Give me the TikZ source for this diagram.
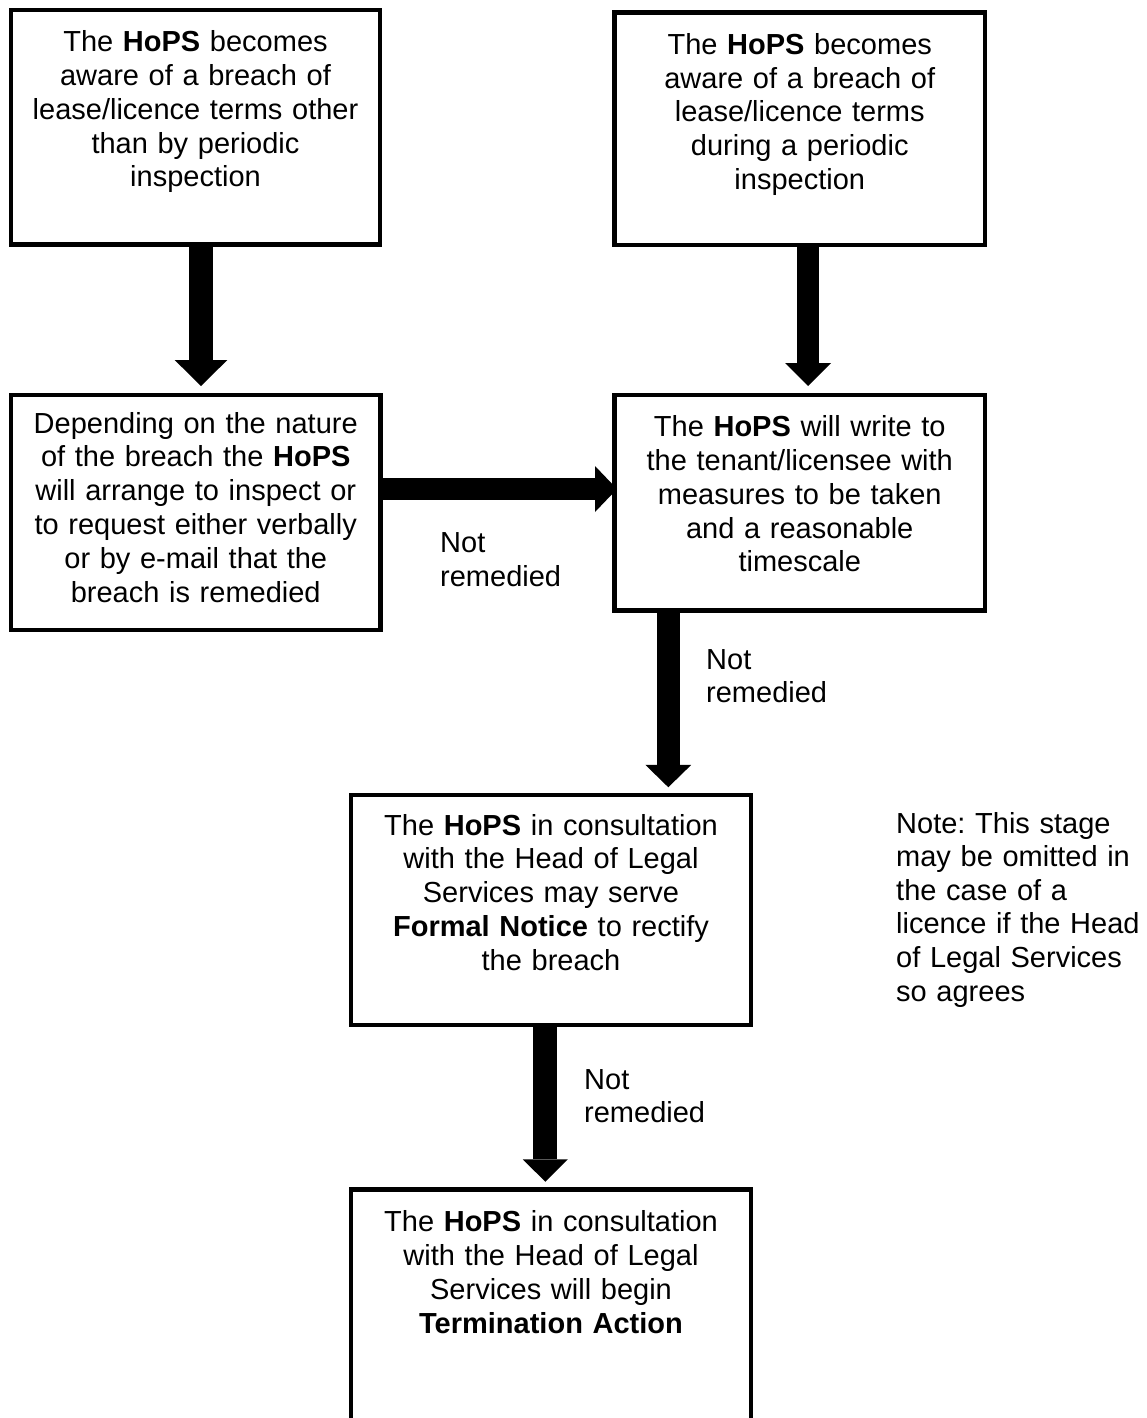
\documentclass[tikz,border=0pt]{standalone}
\usepackage{fontspec}
\setmainfont{Liberation Sans}
\usetikzlibrary{arrows.meta}
\frenchspacing

\begin{document}
\begin{tikzpicture}[x=1pt,y=-1pt,
  box/.style={draw, line width=4.5pt, rectangle, inner sep=0pt},
  boxtext/.style={anchor=base, inner sep=0pt, align=center, text width=390pt,
    font=\fontsize{29}{33.8}\selectfont},
  sidetext/.style={anchor=base west, inner sep=0pt, align=left, text width=250pt,
    font=\fontsize{29}{33.6}\selectfont},
  flow/.style={line width=#1}
]
% page
\fill[white] (0,0) rectangle (1146,1418);
\useasboundingbox (0,0) rectangle (1146,1418);

% boxes
\node[box, minimum width=369pt, minimum height=234.5pt] (b1) at (195.5,127.25) {};
\node[box, minimum width=370.5pt, minimum height=232.5pt] (b3) at (799.75,128.75) {};
\node[box, minimum width=369.5pt, minimum height=235pt] (b2) at (195.75,512.5) {};
\node[box, minimum width=370.5pt, minimum height=215.5pt] (b4) at (799.75,502.75) {};
\node[box, minimum width=400pt, minimum height=230pt] (b5) at (551,910) {};
\node[box, minimum width=400pt, minimum height=250.5pt] (b6) at (551,1314.75) {};

% box texts
\node[boxtext] (t1) at (195.5,51.7) {The \textbf{HoPS} becomes\\aware of a breach of\\lease/licence terms other\\than by periodic\\inspection};
\node[boxtext] (t3) at (799.75,54.3) {The \textbf{HoPS} becomes\\aware of a breach of\\lease/licence terms\\during a periodic\\inspection};
\node[boxtext] (t2) at (195.75,433) {Depending on the nature\\of the breach the \textbf{HoPS}\\will arrange to inspect or\\to request either verbally\\or by e-mail that the\\breach is remedied};
\node[boxtext] (t4) at (799.75,436.7) {The \textbf{HoPS} will write to\\the tenant/licensee with\\measures to be taken\\and a reasonable\\timescale};
\node[boxtext] (t5) at (551,835) {The \textbf{HoPS} in consultation\\with the Head of Legal\\Services may serve\\\textbf{Formal Notice} to rectify\\the breach};
\node[boxtext] (t6) at (551,1231.7) {The \textbf{HoPS} in consultation\\with the Head of Legal\\Services will begin\\\textbf{Termination Action}};

% connector labels and note
\node[sidetext] (l1) at (440,552.7) {Not\\remedied};
\node[sidetext] (l2) at (706,669) {Not\\remedied};
\node[sidetext] (l3) at (584,1089) {Not\\remedied};
\node[sidetext] (note) at (896,833) {Note: This stage\\may be omitted in\\the case of a\\licence if the Head\\of Legal Services\\so agrees};

% block arrows
\draw[flow=24.6pt, -{Triangle[width=52.7pt,length=26pt,line width=0pt]}, shorten >=6.75pt]
  ([xshift=5.5pt]b1.south) -- ([xshift=5.5pt]b1.south |- b2.north);
\draw[flow=22pt, -{Triangle[width=46pt,length=23pt,line width=0pt]}, shorten >=6.75pt]
  ([xshift=8.25pt]b3.south) -- ([xshift=8.25pt]b3.south |- b4.north);
\draw[flow=22pt, -{Triangle[width=46pt,length=22pt,line width=0pt]}, shorten >=-4.75pt]
  ([yshift=23.5pt]b2.east) -- ([yshift=23.5pt]b2.east -| b4.west);
\draw[flow=23.3pt, -{Triangle[width=45.7pt,length=22.3pt,line width=0pt]}, shorten >=5.5pt]
  ([xshift=-131.45pt]b4.south) -- ([xshift=-131.45pt]b4.south |- b5.north);
\draw[flow=24pt, -{Triangle[width=45pt,length=22.4pt,line width=0pt]}, shorten >=5.5pt]
  ([xshift=-5.7pt]b5.south) -- ([xshift=-5.7pt]b5.south |- b6.north);
\end{tikzpicture}
\end{document}
